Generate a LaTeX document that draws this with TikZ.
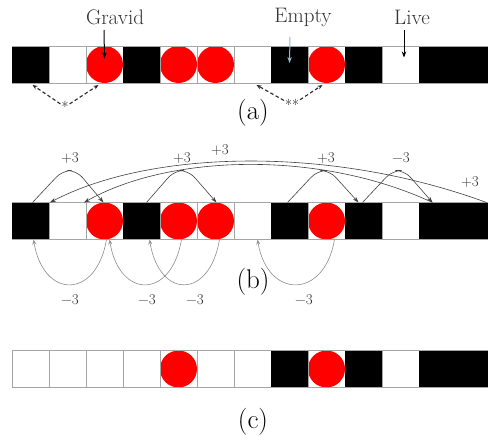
\documentclass[tikz,border=0pt]{standalone}
\usepackage{fontspec}
\usetikzlibrary{arrows.meta}
\definecolor{cellgray}{RGB}{165,165,165}
\definecolor{emptyblue}{RGB}{140,185,205}
\definecolor{gravidred}{RGB}{255,0,0}
\tikzset{
 cell/.style={line width=0.8pt, minimum width=37pt, minimum height=37pt, inner sep=0pt, outer sep=0pt},
 cellE/.style={cell, draw=cellgray, fill=white},
 cellL/.style={cell, draw=black, fill=black},
 cellG/.style={cell, draw=cellgray, fill=white, path picture={\fill[gravidred] (path picture bounding box.center) circle (18.5pt);}},
 rowline/.style={draw=cellgray, line width=0.8pt},
 tag/.style={font=\fontsize{21}{21}\selectfont, inner sep=0pt, text=black!80},
 jumplab/.style={font=\fontsize{15}{15}\selectfont, inner sep=0pt, text=black!80},
 caption/.style={font=\fontsize{27}{27}\selectfont, inner sep=0pt},
 starlab/.style={font=\fontsize{15}{15}\selectfont, inner sep=1pt},
 jump/.style={draw=black!75, line width=0.6pt, rounded corners=9pt, -{Stealth[length=6pt,width=4pt]}},
 longjump/.style={draw=black!75, line width=0.6pt, -{Stealth[length=6pt,width=4pt]}},
 back/.style={draw=black!45, line width=0.6pt, -{Stealth[length=5pt,width=4pt,open]}},
 pointer/.style={line width=1pt, -{Stealth[length=6pt,width=4.5pt]}},
 dashlink/.style={dash pattern=on 3.5pt off 2.5pt, line width=1.1pt, draw=black!85, -{Stealth[length=5pt,width=4pt]}},
}
\begin{document}
\begin{tikzpicture}[x=1pt,y=-1pt]
\useasboundingbox (0,0) rectangle (488,436);
% row (a)
\foreach \t [count=\i from 0] in {L,E,G,L,G,G,E,L,G,L,E,L,L}
  \node[cell\t] (a\i) at ({30.5+37*\i},64.5) {};
% row (b)
\foreach \t [count=\i from 0] in {L,E,G,L,G,G,E,L,G,L,E,L,L}
  \node[cell\t] (b\i) at ({30.5+37*\i},221) {};
% row (c)
\foreach \t [count=\i from 0] in {E,E,E,E,G,E,E,L,G,L,E,L,L}
  \node[cell\t] (c\i) at ({30.5+37*\i},369) {};
\foreach \r in {a,b,c}{
  \draw[rowline] (\r0.north west) -- (\r12.north east);
  \draw[rowline] (\r0.south west) -- (\r12.south east);
}

% labels of (a)
\node[tag] (gravid) at (115,17) {Gravid};
\node[tag] (empty) at (303,17) {Empty};
\node[tag] (live) at (412,17) {Live};
\draw[pointer] (104,30) -- ([yshift=6pt]a2.center);
\draw[pointer, draw=emptyblue] (290,37) -- ([yshift=1.5pt]a7.center);
\draw[pointer] (404,30) -- ([xshift=3.5pt,yshift=7pt]a10.center);

\node[starlab] (s1) at (65,107) {*};
\node[starlab] (s2) at (292,105) {**};
\draw[dashlink] (s1) -- ([xshift=2pt,yshift=-2pt]a0.south);
\draw[dashlink] (s1) -- ([xshift=-6pt,yshift=-2pt]a2.south);
\draw[dashlink] (s2) -- ([xshift=4pt,yshift=-2pt]a6.south);
\draw[dashlink] (s2) -- ([xshift=-4pt,yshift=-2pt]a8.south);

\node[caption] (capa) at (253,113) {(a)};
\node[caption] (capb) at (253,282) {(b)};
\node[caption] (capc) at (253,422) {(c)};

% jumps above (b)
\draw[jump] ([xshift=2pt]b0.north) -- ++(30,-32) -- ++(14,0) -- ([xshift=-1pt]b2.north);
\draw[jump] ([xshift=5pt]b3.north) -- ++(28,-32) -- ++(14,0) -- ([xshift=1pt]b5.north);
\draw[jump] ([xshift=-2pt]b7.north) -- ++(30,-32) -- ++(12,0) -- ([xshift=-5pt]b9.north);
\draw[jump] ([xshift=-1pt]b9.north) -- ++(30,-32) -- ++(12,0) -- ([xshift=-5pt]b11.north);
\draw[longjump] ([xshift=12pt]b12.north) .. controls (330,145) and (150,150) .. ([xshift=1pt]b1.north west);
\draw[longjump] ([xshift=-5pt]b11.north) .. controls (320,150) and (170,154) .. ([xshift=-2pt]b1.north east);

\node[jumplab] (p1) at (70,158) {+3};
\node[jumplab] (p2) at (182,158) {+3};
\node[jumplab] (p3) at (220,150) {+3};
\node[jumplab] (p4) at (326,158) {+3};
\node[jumplab] (p5) at (401,158) {−3};
\node[jumplab] (p6) at (470,182) {+3};

% jumps below (b)
\draw[back] ([xshift=2pt]b2.south) .. controls +(-10,60) and +(10,60) .. ([xshift=3pt]b0.south);
\draw[back] ([xshift=3pt]b4.south) .. controls +(-10,60) and +(10,60) .. ([xshift=5pt]b2.south);
\draw[back] ([xshift=4pt]b5.south) .. controls +(-10,60) and +(10,60) .. ([xshift=8pt]b3.south);
\draw[back] ([xshift=8pt]b8.south) .. controls +(-10,60) and +(10,60) .. ([xshift=5pt]b6.south);

\node[jumplab] (m1) at (70,300) {−3};
\node[jumplab] (m2) at (147,300) {−3};
\node[jumplab] (m3) at (195,300) {−3};
\node[jumplab] (m4) at (304,300) {−3};
\end{tikzpicture}
\end{document}
